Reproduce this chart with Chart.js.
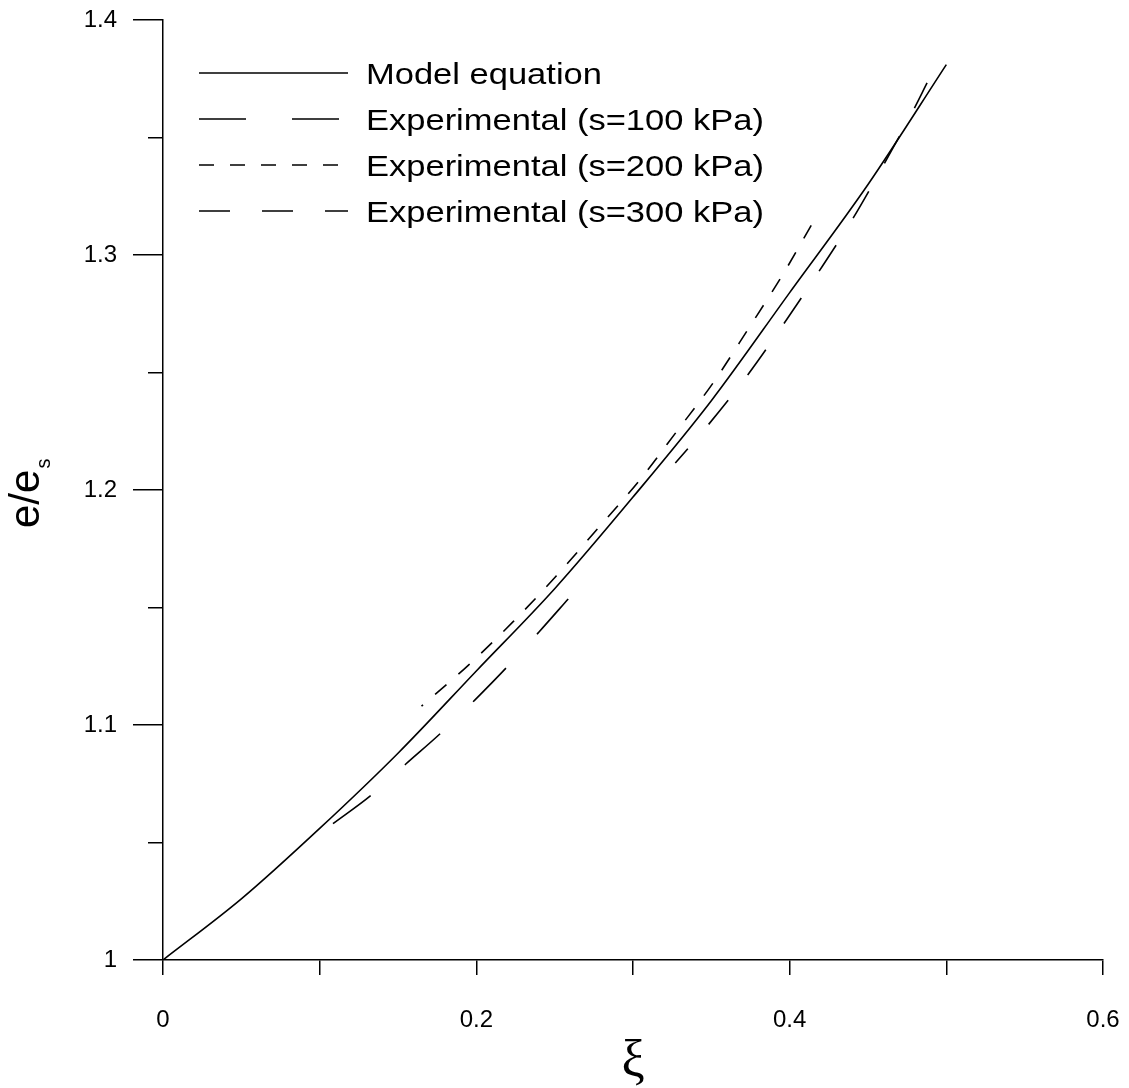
<!DOCTYPE html>
<html>
<head>
<meta charset="utf-8">
<title>e/es vs xi</title>
<script src="https://cdn.jsdelivr.net/npm/chart.js@4.4.1/dist/chart.umd.min.js"></script>
<style>
  html, body { margin: 0; padding: 0; background: #fff; }
  #wrap { width: 1129px; height: 1088px; }
</style>
</head>
<body>
<div id="wrap"><canvas id="chart" width="1129" height="1088"></canvas></div>
<script>
// Values
const seriesLabels = [
    'Model equation',
    'Experimental (s=100 kPa)',
    'Experimental (s=200 kPa)',
    'Experimental (s=300 kPa)'
];

const modelX = [0, 0.05, 0.1, 0.15, 0.2, 0.25, 0.3, 0.35, 0.4, 0.45, 0.5];
const modelY = [1.000, 1.026, 1.056, 1.088, 1.123, 1.158, 1.197, 1.238, 1.284, 1.330, 1.381];

const s100X = [0.1085, 0.133, 0.155, 0.1774, 0.199, 0.2196, 0.240, 0.2598];
const s100Y = [1.058, 1.0702, 1.0834, 1.0966, 1.1106, 1.1247, 1.1396, 1.1545];

const s200X = [0.165, 0.195, 0.224, 0.251, 0.278, 0.304, 0.328, 0.352, 0.374, 0.395, 0.415];
const s200Y = [1.108, 1.1255, 1.1443, 1.1634, 1.184, 1.204, 1.225, 1.2464, 1.269, 1.291, 1.314];

const s300X = [0.327, 0.348, 0.3727, 0.3957, 0.418, 0.4398, 0.4596, 0.4787, 0.4877];
const s300Y = [1.2115, 1.2277, 1.2485, 1.2702, 1.2923, 1.3149, 1.3379, 1.3613, 1.3732];

const xTickLabels = ['0', '0.2', '0.4', '0.6'];
const yTickLabels = ['1', '1.1', '1.2', '1.3', '1.4'];

const xTitle = 'ξ';
const yTitleMain = 'e/e';
const yTitleSub = 's';

const SANS = "'Liberation Sans', Arial, sans-serif";
const SERIF = "'Liberation Serif', 'Times New Roman', serif";

function toPoints(xs, ys) {
    return xs.map((x, i) => ({ x: x, y: ys[i] }));
}

// only some tick values carry a label
function labelFor(list, value) {
    const hit = list.find(t => Math.abs(Number(t) - value) < 1e-6);
    return hit === undefined ? '' : hit;
}

// legend drawn inside the plot, top left
const insideLegend = {
    id: 'insideLegend',
    afterDraw(chart, args, opts) {
        const ctx = chart.ctx;
        chart.data.datasets.forEach((ds, i) => {
            const y = opts.top + i * opts.rowGap;
            ctx.save();
            ctx.strokeStyle = '#000';
            ctx.lineWidth = 1.6;
            ctx.setLineDash(ds.borderDash || []);
            ctx.beginPath();
            ctx.moveTo(opts.lineStart, y);
            ctx.lineTo(opts.lineEnd, y);
            ctx.stroke();
            ctx.setLineDash([]);
            ctx.fillStyle = '#000';
            ctx.font = opts.fontSize + 'px ' + SANS;
            ctx.textBaseline = 'alphabetic';
            ctx.translate(opts.textX, y + opts.fontSize * 0.36);
            ctx.scale(opts.stretch, 1);
            ctx.fillText(ds.label, 0, 0);
            ctx.restore();
        });
    }
};

// rotated y title with subscript
const yAxisTitle = {
    id: 'yAxisTitle',
    afterDraw(chart) {
        const ctx = chart.ctx;
        ctx.save();
        ctx.fillStyle = '#000';
        ctx.translate(39, 528);
        ctx.rotate(-Math.PI / 2);
        ctx.textBaseline = 'alphabetic';
        ctx.font = '42px ' + SANS;
        ctx.fillText(yTitleMain, 0, 0);
        const w = ctx.measureText(yTitleMain).width;
        ctx.font = '20px ' + SANS;
        ctx.fillText(yTitleSub, w + 1, 11);
        ctx.restore();
    }
};

const ctx = document.getElementById('chart');

new Chart(ctx, {
    type: 'line',
    data: {
        datasets: [{
            label: seriesLabels[0],
            data: toPoints(modelX, modelY),
            borderDash: []
        }, {
            label: seriesLabels[1],
            data: toPoints(s100X, s100Y),
            borderDash: [47, 46]
        }, {
            label: seriesLabels[2],
            data: toPoints(s200X, s200Y),
            borderDash: [15, 16],
            borderDashOffset: 13
        }, {
            label: seriesLabels[3],
            data: toPoints(s300X, s300Y),
            borderDash: [31, 32],
            borderDashOffset: 12
        }]
    },
    options: {
        responsive: false,
        animation: false,
        layout: {
            padding: { top: 20, right: 26, left: 0, bottom: 0 }
        },
        elements: {
            point: { radius: 0 },
            line: {
                borderColor: '#000',
                borderWidth: 1.6,
                cubicInterpolationMode: 'monotone',
                fill: false
            }
        },
        plugins: {
            legend: { display: false },
            tooltip: { enabled: false },
            insideLegend: {
                top: 73,
                rowGap: 46,
                lineStart: 199,
                lineEnd: 348,
                textX: 366,
                fontSize: 30,
                stretch: 1.15
            }
        },
        scales: {
            x: {
                type: 'linear',
                min: 0,
                max: 0.6,
                border: { color: '#000', width: 1.5 },
                grid: {
                    drawOnChartArea: false,
                    color: '#000',
                    lineWidth: 1.5,
                    tickLength: 15
                },
                ticks: {
                    stepSize: 0.1,
                    autoSkip: false,
                    maxRotation: 0,
                    padding: 31,
                    color: '#000',
                    font: { family: SANS, size: 24 },
                    callback: v => labelFor(xTickLabels, v)
                },
                title: {
                    display: true,
                    text: xTitle,
                    color: '#000',
                    font: { family: SERIF, size: 52 },
                    padding: { top: 0, bottom: -6 }
                },
                // fixed axis band, no extra room for the end labels
                afterFit: scale => {
                    scale.height = 128;
                    scale.paddingLeft = 0;
                    scale.paddingRight = 0;
                }
            },
            y: {
                type: 'linear',
                min: 1,
                max: 1.4,
                border: { color: '#000', width: 1.5 },
                grid: {
                    drawOnChartArea: false,
                    color: '#000',
                    lineWidth: 1.5,
                    tickLength: 30,
                    // minor ticks: only the inner half of the tick is drawn
                    tickBorderDash: c => labelFor(yTickLabels, c.tick.value) ? [] : [15, 15],
                    tickBorderDashOffset: c => labelFor(yTickLabels, c.tick.value) ? 0 : 15
                },
                ticks: {
                    stepSize: 0.05,
                    autoSkip: false,
                    padding: 16,
                    color: '#000',
                    font: { family: SANS, size: 24 },
                    callback: v => labelFor(yTickLabels, v)
                },
                afterFit: scale => {
                    scale.width = 163;
                    scale.paddingTop = 0;
                    scale.paddingBottom = 0;
                }
            }
        }
    },
    plugins: [insideLegend, yAxisTitle]
});
</script>
</body>
</html>
